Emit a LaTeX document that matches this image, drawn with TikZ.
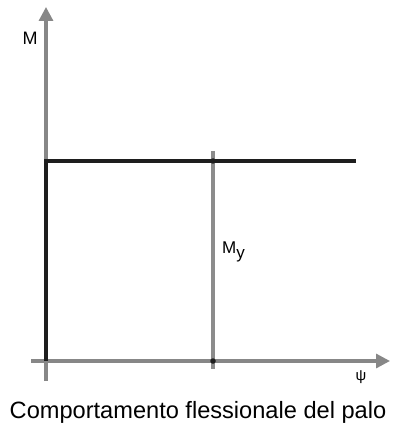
\documentclass[tikz,border=0pt]{standalone}
\usepackage{fontspec}
\setmainfont{Liberation Sans}
\usetikzlibrary{arrows.meta,positioning}
\definecolor{axisc}{RGB}{135,135,135}
\definecolor{curvec}{RGB}{30,30,30}
\definecolor{yieldc}{RGB}{140,140,140}

\begin{document}
\begin{tikzpicture}[x=1pt,y=-1pt,font=\fontsize{18}{22}\selectfont,>={Triangle[length=14pt,width=14pt]}]
\useasboundingbox (0,0) rectangle (394,427);
\tikzstyle{ax}=[axisc,line width=3.2pt]
\tikzstyle{curve}=[curvec,line width=3.2pt]
\tikzstyle{yl}=[yieldc,line width=3.2pt]
\tikzstyle{pt}=[circle,fill=curvec,inner sep=0pt,minimum size=5.5pt]
% axes
\coordinate (ybot) at (46,381);
\coordinate (ytop) at (46,7);
\coordinate (xleft) at (31,361);
\coordinate (xright) at (390,361);
\draw[ax,->] (ybot) -- (ytop);
\draw[ax,->] (xleft) -- (xright);
% yield moment line
\coordinate (yt) at (213,151);
\coordinate (yb) at (213,369);
\draw[yl] (yt) -- (yb);
% moment-curvature law
\coordinate (o) at (46,361);
\coordinate (c1) at (46,161);
\coordinate (c2) at (356,161);
\draw[curve] (o) -- (c1) -- (c2);
\node[pt] (p1) at (213,161) {};
\node[pt] (p2) at (213,361) {};
% labels
\node (lm) at (30,38) {M};
\node[anchor=west,inner sep=0pt] (lmy) at (222,252) {\fontsize{17}{20}\selectfont M\raisebox{-5pt}{y}};
\node (lpsi) at (361,377) {\fontsize{15}{18}\selectfont ψ};
\node (cap) at (198,412) {\fontsize{23.6}{28}\selectfont Comportamento flessionale del palo};
\end{tikzpicture}
\end{document}
